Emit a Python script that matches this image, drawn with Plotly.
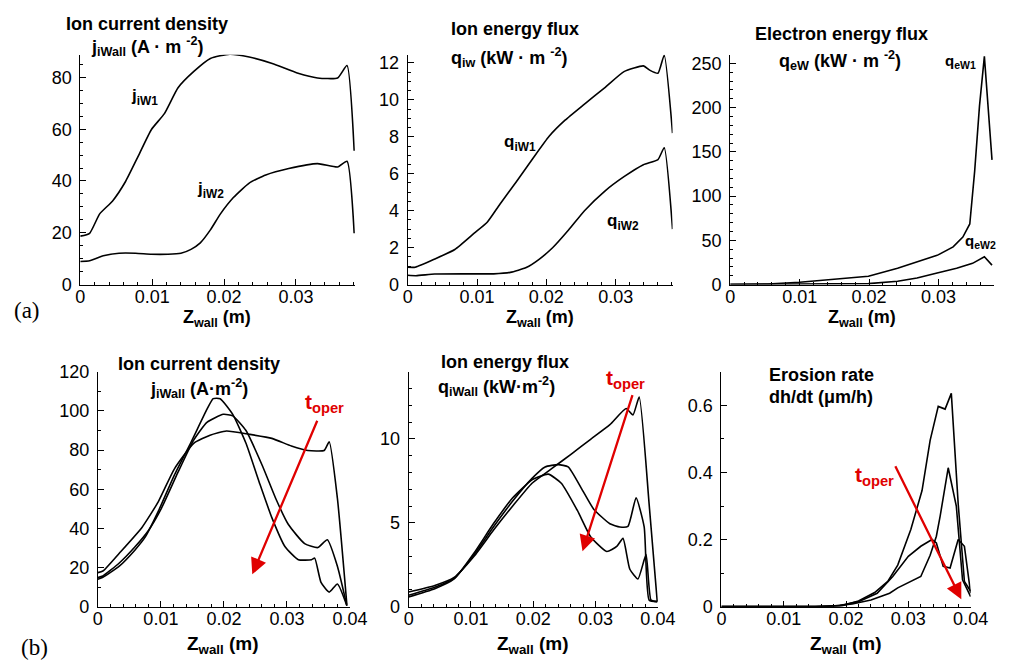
import plotly.graph_objects as go

# ---------------- data ----------------
# (a) left: ion current density
A1_Z1 = [0, 0.0013, 0.0027, 0.0045, 0.0063, 0.0081, 0.0099, 0.0117, 0.0136, 0.0158, 0.0181, 0.0208, 0.0235, 0.0267, 0.0303, 0.033, 0.0358, 0.0371, 0.0381]
A1_J1 = [18.7, 19.8, 27.3, 32.3, 39.8, 49.8, 59.9, 66.0, 76.0, 82.3, 87.3, 89.0, 87.9, 85.4, 81.6, 79.8, 79.8, 84.6, 51.7]
A1_Z2 = [0, 0.0013, 0.0032, 0.0054, 0.0077, 0.0099, 0.0122, 0.014, 0.0154, 0.0167, 0.0181, 0.0195, 0.0213, 0.0235, 0.0258, 0.029, 0.033, 0.0358, 0.0371, 0.0381]
A1_J2 = [8.9, 9.2, 11.1, 12.1, 12.1, 11.7, 11.7, 12.1, 13.6, 16.1, 21.1, 27.3, 33.6, 39.2, 42.3, 44.8, 46.7, 45.4, 47.6, 19.8]

# (a) middle: ion energy flux
A2_Z1 = [0, 0.0011, 0.0039, 0.0068, 0.0096, 0.0115, 0.0133, 0.0157, 0.018, 0.0204, 0.0227, 0.0255, 0.0284, 0.0312, 0.034, 0.0349, 0.0361, 0.037, 0.0382]
A2_Q1 = [0.94, 0.94, 1.38, 1.90, 2.78, 3.39, 4.35, 5.58, 6.80, 8.03, 8.90, 9.77, 10.65, 11.53, 11.84, 11.61, 11.44, 12.42, 8.2]
A2_Z2 = [0, 0.0012, 0.0039, 0.0086, 0.0124, 0.0148, 0.0171, 0.019, 0.0209, 0.0232, 0.0255, 0.0284, 0.0312, 0.034, 0.0361, 0.037, 0.0382]
A2_Q2 = [0.5, 0.48, 0.57, 0.58, 0.58, 0.66, 0.92, 1.38, 1.99, 2.95, 4.00, 5.05, 5.84, 6.49, 6.77, 7.41, 3.0]

# (a) right: electron energy flux
A3_Z1 = [0, 0.0054, 0.01, 0.0147, 0.0199, 0.0241, 0.0269, 0.0298, 0.0321, 0.0335, 0.0345, 0.0352, 0.0359, 0.0366, 0.0377]
A3_Q1 = [0.3, 0.6, 2.6, 5.6, 9.3, 18.5, 26, 33, 42.6, 53.7, 68.5, 128, 202, 258, 141]
A3_Z2 = [0, 0.0147, 0.0199, 0.0241, 0.0269, 0.0298, 0.0326, 0.0349, 0.0366, 0.0377]
A3_Q2 = [0, 0.2, 1.0, 3.7, 7.4, 13, 18.5, 24, 31.5, 22]

# (b) left: ion current density at three operating times
B1_ZA = [0, 0.0008, 0.0034, 0.0059, 0.0075, 0.0096, 0.0121, 0.0147, 0.0173, 0.0183, 0.0194, 0.0214, 0.0235, 0.0256, 0.0276, 0.0297, 0.0318, 0.0339, 0.0344, 0.0354, 0.0367, 0.038, 0.0395]
B1_JA = [14.0, 15.0, 20.7, 29.0, 35.5, 48.8, 67.0, 83.5, 100.8, 106.3, 106.3, 98.3, 83.5, 63.6, 45.5, 30.6, 24.0, 24.0, 24.8, 12.4, 7.4, 11.6, 0.5]
B1_ZB = [0, 0.0008, 0.0034, 0.0059, 0.008, 0.0101, 0.0127, 0.0152, 0.0173, 0.0199, 0.0214, 0.0235, 0.0261, 0.0282, 0.0302, 0.0328, 0.0349, 0.0364, 0.038, 0.0395]
B1_JB = [14.9, 15.7, 22.3, 30.6, 38.8, 50.4, 68.6, 85.1, 94.2, 98.3, 97.5, 90.0, 72.0, 55.4, 42.1, 32.2, 30.2, 34.2, 20.7, 0.5]
B1_ZC = [0, 0.0008, 0.0034, 0.007, 0.0096, 0.0121, 0.0152, 0.0178, 0.0204, 0.024, 0.0276, 0.0307, 0.0333, 0.0359, 0.0367, 0.038, 0.0395]
B1_JC = [17.4, 18.2, 27.3, 40.5, 53.7, 70.2, 83.5, 87.6, 89.8, 88.1, 86.0, 82.1, 79.8, 79.8, 84.3, 55.4, 1.0]

# (b) middle: ion energy flux
B2_ZA = [0, 0.0042, 0.0073, 0.0105, 0.0136, 0.0167, 0.0198, 0.0224, 0.0245, 0.0271, 0.0292, 0.0318, 0.0334, 0.0344, 0.0355, 0.0368, 0.0381, 0.0389, 0.0399]
B2_QA = [0.58, 1.07, 1.65, 3.2, 4.94, 6.49, 7.56, 7.9, 7.36, 5.72, 4.17, 3.29, 3.59, 4.07, 2.23, 1.65, 3.1, 0.39, 0.3]
B2_ZB = [0, 0.0042, 0.0073, 0.0105, 0.0136, 0.0167, 0.0198, 0.0219, 0.024, 0.0256, 0.0277, 0.0297, 0.0323, 0.0339, 0.0352, 0.0365, 0.0378, 0.0386, 0.0399]
B2_QB = [0.68, 1.16, 1.69, 3.1, 4.75, 6.3, 7.65, 8.33, 8.47, 8.33, 7.07, 5.81, 4.94, 4.75, 4.79, 6.49, 4.75, 0.39, 0.3]
B2_ZC = [0, 0.0042, 0.0073, 0.0105, 0.0136, 0.0167, 0.0198, 0.023, 0.0261, 0.0292, 0.0323, 0.0349, 0.036, 0.037, 0.0386, 0.0399]
B2_QC = [0.87, 1.26, 1.74, 3.0, 4.55, 6.0, 7.36, 8.24, 9.1, 9.98, 10.85, 11.82, 11.43, 12.5, 6.1, 0.3]

# (b) right: erosion rate
B3_ZA = [0, 0.015, 0.019, 0.022, 0.025, 0.0275, 0.03, 0.032, 0.0338, 0.0345, 0.0356, 0.0367, 0.038, 0.039, 0.04]
B3_EA = [0, 0, 0.003, 0.015, 0.04, 0.09, 0.15, 0.18, 0.2, 0.19, 0.12, 0.115, 0.2, 0.18, 0.04]
B3_ZB = [0, 0.017, 0.021, 0.024, 0.027, 0.0283, 0.032, 0.0335, 0.0345, 0.0351, 0.0364, 0.0377, 0.0387, 0.04]
B3_EB = [0, 0, 0.008, 0.02, 0.04, 0.056, 0.09, 0.153, 0.21, 0.269, 0.414, 0.3, 0.08, 0.03]
B3_ZC = [0, 0.0152, 0.0194, 0.022, 0.0246, 0.0267, 0.0283, 0.0304, 0.0322, 0.0335, 0.0348, 0.0359, 0.0369, 0.038, 0.039, 0.04]
B3_EC = [0, 0, 0.003, 0.017, 0.042, 0.075, 0.124, 0.23, 0.346, 0.496, 0.597, 0.589, 0.636, 0.307, 0.075, 0.046]

# ---------------- figure ----------------
W, H = 1016, 670
FONT = "Liberation Sans, Arial, sans-serif"
RED = "#e00000"

def px(x):
    return x / W

def py(y):
    return 1 - y / H

fig = go.Figure()

series = [
    (1, A1_Z1, A1_J1, True), (1, A1_Z2, A1_J2, True),
    (2, A2_Z1, A2_Q1, True), (2, A2_Z2, A2_Q2, True),
    (3, A3_Z1, A3_Q1, False), (3, A3_Z2, A3_Q2, False),
    (4, B1_ZA, B1_JA, True), (4, B1_ZB, B1_JB, True), (4, B1_ZC, B1_JC, True),
    (5, B2_ZA, B2_QA, True), (5, B2_ZB, B2_QB, True), (5, B2_ZC, B2_QC, True),
    (6, B3_ZA, B3_EA, False), (6, B3_ZB, B3_EB, False), (6, B3_ZC, B3_EC, False),
]
for k, xs, ys, smooth in series:
    s = "" if k == 1 else str(k)
    line = dict(color="black", width=1.6)
    if smooth:
        line.update(shape="spline", smoothing=0.5)
    fig.add_trace(go.Scatter(x=xs, y=ys, mode="lines", line=line,
                             xaxis="x" + s, yaxis="y" + s,
                             showlegend=False, hoverinfo="skip"))

TICKFONT = dict(family=FONT, size=18, color="black")

def xaxis(dom, anchor, rng):
    return dict(domain=dom, anchor=anchor, range=rng, showline=True,
                linecolor="black", linewidth=1, ticks="inside", ticklen=6,
                tickcolor="black", tick0=0, dtick=0.01,
                minor=dict(dtick=0.002, ticks="inside", ticklen=3, tickcolor="black"),
                showgrid=False, zeroline=False, ticklabelstandoff=-4,
                tickfont=TICKFONT)

def yaxis(dom, anchor, rng, dt, mdt):
    return dict(domain=dom, anchor=anchor, range=rng, showline=True,
                linecolor="black", linewidth=1, ticks="inside", ticklen=6,
                tickcolor="black", tick0=0, dtick=dt,
                minor=dict(dtick=mdt, ticks="inside", ticklen=3, tickcolor="black"),
                showgrid=False, zeroline=False, ticklabelstandoff=4,
                tickfont=TICKFONT)

rowA = [py(283), py(46)]
rowB = [py(615), py(373)]
fig.update_layout(
    width=W, height=H, margin=dict(l=0, r=0, t=0, b=0),
    paper_bgcolor="white", plot_bgcolor="white",
    xaxis=xaxis([px(77), px(358)], "y", [0, 0.0382]),
    yaxis=yaxis(rowA, "x", [0, 88.8], 20, 5),
    xaxis2=xaxis([px(412), px(683)], "y2", [0, 0.0382]),
    yaxis2=yaxis(rowA, "x2", [0, 12.45], 2, 0.5),
    xaxis3=xaxis([px(742), px(1012)], "y3", [0, 0.038]),
    yaxis3=yaxis(rowA, "x3", [0, 260], 50, 10),
    xaxis4=xaxis([px(95), px(353)], "y4", [0, 0.04]),
    yaxis4=yaxis(rowB, "x4", [0, 120], 20, 10),
    xaxis5=xaxis([px(413), px(668)], "y5", [0, 0.04]),
    yaxis5=yaxis(rowB, "x5", [0, 14], 5, 1),
    xaxis6=xaxis([px(733), px(988)], "y6", [0, 0.04]),
    yaxis6=yaxis(rowB, "x6", [0, 0.7], 0.2, 0.1),
)

ann = []

def ptext(text, x, y, size=18, color="black", family=FONT):
    ann.append(dict(text=text, x=px(x), y=py(y), xref="paper", yref="paper",
                    xanchor="center", yanchor="middle", showarrow=False,
                    font=dict(family=family, size=size, color=color)))

def dtext(text, k, x, y, size=17, color="black"):
    s = "" if k == 1 else str(k)
    ann.append(dict(text=text, x=x, y=y, xref="x" + s, yref="y" + s,
                    xanchor="center", yanchor="middle", showarrow=False,
                    font=dict(family=FONT, size=size, color=color)))

# panel titles
ptext("<b>Ion current density</b>", 145, 14)
ptext("<b>j<sub>iWall</sub> (A · m <sup>-2</sup>)</b>", 145, 38)
ptext("<b>Ion energy flux</b>", 522, 20)
ptext("<b>q<sub>iw</sub> (kW · m <sup>-2</sup>)</b>", 516, 49)
ptext("<b>Electron energy flux</b>", 856, 25)
ptext("<b>q<sub>eW</sub> (kW · m <sup>-2</sup>)</b>", 854, 52)
ptext("<b>Ion current density</b>", 198, 365)
ptext("<b>j<sub>iWall</sub> (A·m<sup>-2</sup>)</b>", 198, 390)
ptext("<b>Ion energy flux</b>", 512, 363)
ptext("<b>q<sub>iWall</sub> (kW·m<sup>-2</sup>)</b>", 503, 388)
ptext("<b>Erosion rate</b>", 835, 376)
ptext("<b>dh/dt (μm/h)</b>", 835, 399)

# x-axis titles
for cx, cy, fs in [(217, 318, 18), (547, 318, 18), (877, 318, 18),
                   (223, 655, 19), (540, 655, 19), (860, 655, 19)]:
    ptext("<b>Z<sub>wall</sub> (m)</b>", cx, cy, size=fs)

# panel letters
ptext("(a)", 22, 310, size=23, family="Liberation Serif, Times New Roman, serif")
ptext("(b)", 30, 657, size=23, family="Liberation Serif, Times New Roman, serif")

# curve labels
dtext("<b>j<sub>iW1</sub></b>", 1, 0.009, 72.3)
dtext("<b>j<sub>iW2</sub></b>", 1, 0.0181, 36.7)
dtext("<b>q<sub>iW1</sub></b>", 2, 0.0162, 7.66)
dtext("<b>q<sub>iW2</sub></b>", 2, 0.0311, 3.41)
dtext("<b>q<sub>eW1</sub></b>", 3, 0.0332, 252, size=15)
dtext("<b>q<sub>eW2</sub></b>", 3, 0.036, 48.5, size=15)

# operating-time arrows
arrows = [(4, 0.0245, 16.5, 0.0349, 95.8), (5, 0.0279, 3.3, 0.036, 12.7), (6, 0.0385, 0.022, 0.0278, 0.423)]
for k, hx, hy, tx, ty in arrows:
    s = str(k)
    ann.append(dict(x=hx, y=hy, ax=tx, ay=ty, xref="x" + s, yref="y" + s,
                    axref="x" + s, ayref="y" + s, showarrow=True, text="",
                    arrowhead=2, arrowsize=1.4, arrowwidth=2.3, arrowcolor=RED))
dtext("<b>t<sub>oper</sub></b>", 4, 0.036, 104, size=21, color=RED)
dtext("<b>t<sub>oper</sub></b>", 5, 0.0348, 13.6, size=21, color=RED)
dtext("<b>t<sub>oper</sub></b>", 6, 0.0245, 0.39, size=21, color=RED)

fig.update_layout(annotations=ann)
fig.write_html("out.html")
